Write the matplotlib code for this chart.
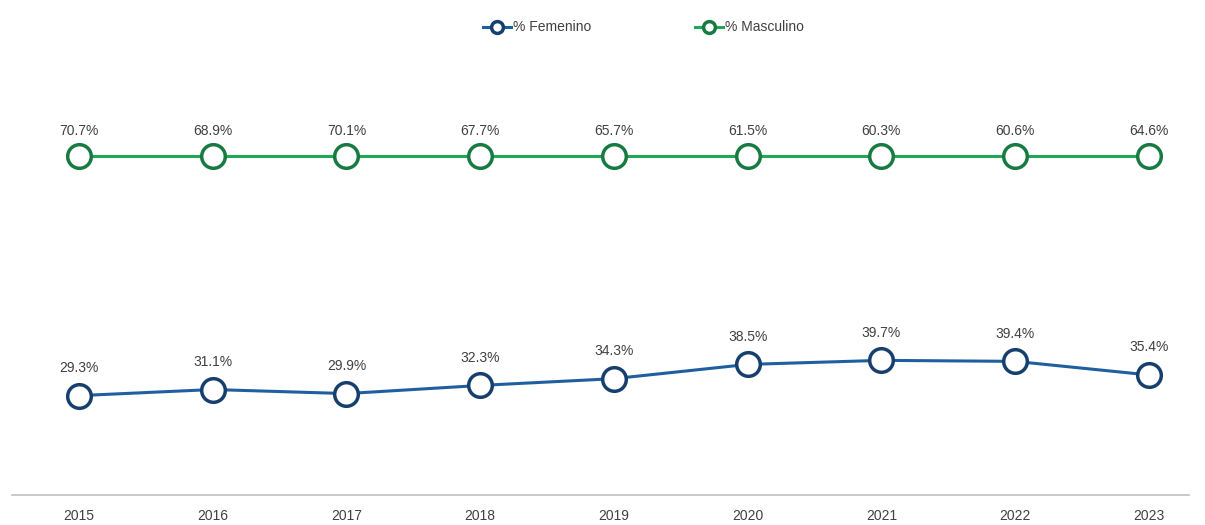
import matplotlib.pyplot as plt
import numpy as np

plt.rcParams['font.family'] = ['Liberation Sans', 'DejaVu Sans']

years = ["2015", "2016", "2017", "2018", "2019", "2020", "2021", "2022", "2023"]
femenino = [29.3, 31.1, 29.9, 32.3, 34.3, 38.5, 39.7, 39.4, 35.4]
masculino = [70.7, 68.9, 70.1, 67.7, 65.7, 61.5, 60.3, 60.6, 64.6]

blue_line = "#1f5fa0"
blue_edge = "#173f6e"
green_line = "#1fa855"
green_edge = "#177a40"
text_col = "#404040"

fig = plt.figure(figsize=(12.05, 5.25), dpi=100)
ax = fig.add_axes([12 / 1205, 1 - 495 / 525, 1177 / 1205, (495 - 88) / 525])

x = np.arange(len(years))
fem = np.array(femenino)
# stacked line chart: masculino sits on top of femenino
stack = fem + np.array(masculino)

ax.plot(x, fem, color=blue_line, lw=2.2, marker="o", ms=17, mfc="white",
        mec=blue_edge, mew=2.5, label="% Femenino", zorder=3)
ax.plot(x, stack, color=green_line, lw=2.2, marker="o", ms=17, mfc="white",
        mec=green_edge, mew=2.5, label="% Masculino", zorder=3)

for i in range(len(years)):
    ax.annotate(f"{femenino[i]:.1f}%", (x[i], fem[i]), xytext=(0, 15),
                textcoords="offset points", ha="center", va="bottom",
                fontsize=10, color=text_col)
    ax.annotate(f"{masculino[i]:.1f}%", (x[i], stack[i]), xytext=(0, 13),
                textcoords="offset points", ha="center", va="bottom",
                fontsize=10, color=text_col)

ax.set_xlim(-0.5, 8.3)
ax.set_ylim(0, 120)
ax.set_xticks(x)
ax.set_xticklabels(years, fontsize=10, color=text_col)
ax.set_yticks([])
ax.tick_params(axis="x", length=0, pad=10)
for s in ["top", "right", "left"]:
    ax.spines[s].set_visible(False)
ax.spines["bottom"].set_color("#c0c0c0")
ax.spines["bottom"].set_linewidth(1.2)

leg = fig.legend(loc="upper center", bbox_to_anchor=(0.534, 0.985), ncol=2,
                 frameon=False, fontsize=10, markerscale=0.5,
                 handlelength=2.0, handletextpad=0.15, columnspacing=7.5,
                 labelcolor=text_col)

fig.savefig("out.png", dpi=100)
